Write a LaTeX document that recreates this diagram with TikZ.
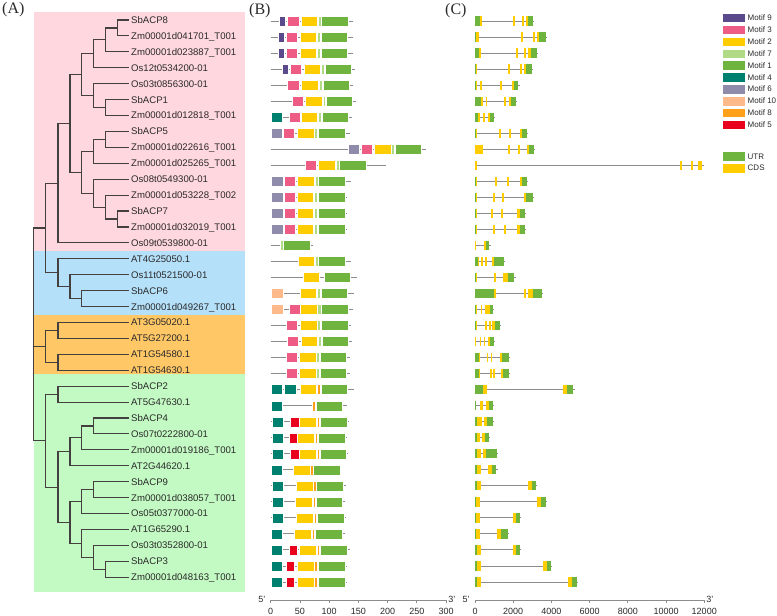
\documentclass[tikz,border=0pt]{standalone}
\usepackage{fontspec}
\setmainfont{Liberation Serif}
\setsansfont{Liberation Sans}
\usetikzlibrary{calc,positioning}

\definecolor{bgpink}{HTML}{FFD7DF}
\definecolor{bgblue}{HTML}{B5E0F9}
\definecolor{bgorange}{HTML}{FFC766}
\definecolor{bggreen}{HTML}{C3F9C3}
\definecolor{m9}{HTML}{5A4A8C}
\definecolor{m3}{HTML}{EE5C86}
\definecolor{m2}{HTML}{FFCC00}
\definecolor{m7}{HTML}{B0DA85}
\definecolor{m1}{HTML}{6EB43F}
\definecolor{m4}{HTML}{00806F}
\definecolor{m6}{HTML}{8F8BAA}
\definecolor{m10}{HTML}{FFBA8C}
\definecolor{m8}{HTML}{FFA01A}
\definecolor{m5}{HTML}{E8001D}
\definecolor{utr}{HTML}{6EB43F}
\definecolor{cds}{HTML}{FFCC00}
\definecolor{treegrey}{HTML}{444040}
\definecolor{linegrey}{HTML}{8C8C8C}
\definecolor{labgrey}{HTML}{2A2A2A}

% elbow joining two children at depth x
\newcommand{\clade}[4]{%
  \coordinate (mid) at ($(#3)!0.5!(#4)$);
  \coordinate (#1) at (#2,0 |- mid);
  \draw[branch] (#3) -| (#1) |- (#4);
}

\begin{document}
\begin{tikzpicture}
    [
    x=1pt, y=-1pt,
    branch/.style={line width=1.1pt, color=treegrey},
    leaf/.style={anchor=west, inner xsep=2.5pt, inner ysep=0pt,
      text height=6.9pt, text depth=0pt, text=labgrey,
      font=\sffamily\fontsize{9.6}{11}\selectfont},
    panel/.style={anchor=west, inner sep=0pt, text=labgrey,
      font=\fontsize{16}{18}\selectfont},
    backbone/.style={line width=1pt, color=linegrey},
    motif/.style={draw=white, line width=0.4pt},
    axisline/.style={line width=0.8pt, color=linegrey},
    ticklab/.style={inner sep=0pt, text=labgrey,
      font=\sffamily\fontsize{9}{10}\selectfont},
    legtext/.style={anchor=west, inner sep=0pt, text=labgrey,
      font=\sffamily\fontsize{8}{9}\selectfont}
    ]
    % motif rows: length / {motif/start/end}
    \def\motifrows{%
      141/{9/15/25, 3/29/48, 2/52/80, 7/81/86, 1/87/133},%
      140/{9/13/23, 3/27/46, 2/50/78, 7/79/84, 1/86/131},%
      140/{9/13/23, 3/27/46, 2/50/78, 7/79/84, 1/86/131},%
      144/{9/20/30, 3/34/53, 2/57/85, 7/86/91, 1/93/138},%
      140/{3/29/48, 2/53/82, 7/83/88, 1/89/135},%
      146/{3/37/55, 2/59/88, 7/89/94, 1/95/140},%
      139/{4/0/20, 3/31/50, 2/52/80, 7/82/87, 1/88/133},%
      135/{6/0/20, 3/22/41, 2/45/74, 7/75/80, 1/81/127},%
      266/{6/132/152, 3/155/173, 2/177/206, 7/207/212, 1/213/258},%
      197/{3/59/78, 2/82/111, 7/112/117, 1/118/163},%
      137/{6/1/21, 3/23/42, 2/46/75, 7/76/81, 1/82/128},%
      131/{6/1/21, 3/23/42, 2/45/73, 7/75/80, 1/81/127},%
      131/{6/1/21, 3/23/42, 2/45/73, 7/75/80, 1/81/127},%
      131/{6/1/21, 3/23/42, 2/45/73, 7/75/80, 1/81/127},%
      72/{7/16/21, 1/22/67},%
      137/{2/47/74, 7/76/81, 1/82/128},%
      148/{2/55/83, 1/91/136},%
      143/{10/0/21, 2/50/78, 7/79/84, 1/86/131},%
      141/{10/0/21, 3/31/50, 2/51/79, 7/80/86, 1/87/132},%
      137/{3/26/45, 2/51/79, 7/80/85, 1/87/132},%
      139/{3/28/47, 2/52/80, 7/82/87, 1/88/133},%
      136/{3/26/45, 2/49/77, 7/78/83, 1/84/130},%
      136/{3/26/45, 2/49/77, 7/78/83, 1/84/130},%
      142/{4/0/20, 4/23/43, 2/50/78, 8/79/84, 1/86/131},%
      131/{4/0/20, 8/71/76, 1/78/123},%
      134/{4/2/22, 5/34/49, 2/49/78, 8/79/83, 1/84/131},%
      131/{4/2/22, 5/32/46, 2/46/75, 8/76/80, 1/82/128},%
      133/{4/2/22, 5/34/48, 2/48/77, 8/79/83, 1/84/130},%
      121/{4/0/19, 2/38/67, 8/68/72, 1/73/119},%
      128/{4/2/22, 2/43/72, 8/73/77, 1/78/124},%
      127/{4/2/22, 2/42/71, 8/72/76, 1/78/123},%
      129/{4/2/22, 2/44/73, 8/74/78, 1/79/125},%
      127/{4/0/19, 2/41/70, 8/71/75, 1/76/122},%
      135/{4/0/20, 5/31/45, 2/49/78, 8/79/83, 1/84/131},%
      131/{4/0/20, 5/27/41, 2/45/74, 8/75/79, 1/81/127},%
      131/{4/0/20, 5/27/41, 2/45/74, 8/75/79, 1/81/127}%
    }
    % gene rows: length / {kind/start/end}
    \def\generows{%
      3050/{utr/0/260, cds/260/350, cds/1970/2070, cds/2440/2540, cds/2650/2790, utr/2790/3050},%
      3720/{utr/0/50, cds/50/200, cds/2390/2490, cds/3030/3140, cds/3240/3370, utr/3370/3720},%
      3230/{utr/0/230, cds/230/300, cds/2150/2250, cds/2580/2690, cds/2790/2910, utr/2910/3230},%
      2960/{utr/0/40, cds/40/120, cds/1730/1830, cds/2340/2440, cds/2550/2650, utr/2650/2960},%
      2270/{utr/0/40, cds/40/90, cds/260/370, cds/1330/1430, cds/1930/2060, utr/2060/2270},%
      2150/{utr/0/310, cds/310/400, cds/560/650, cds/1500/1600, cds/1760/1870, utr/1870/2150},%
      1000/{utr/0/170, cds/170/260, cds/420/520, cds/660/780, utr/780/1000},%
      2700/{utr/0/40, cds/40/100, cds/1240/1340, cds/1800/1900, cds/2340/2460, utr/2460/2700},%
      3090/{cds/0/440, cds/1740/1830, cds/2270/2370, cds/2720/2830, utr/2830/3090},%
      11950/{cds/0/90, cds/10730/10830, cds/11300/11400, cds/11690/11890},%
      2700/{utr/0/40, cds/40/90, cds/1030/1130, cds/1680/1780, cds/2340/2460, utr/2460/2700},%
      3020/{utr/0/40, cds/40/120, cds/940/1030, cds/1430/1520, cds/2580/2670, utr/2670/3020},%
      2610/{utr/0/40, cds/40/120, cds/860/940, cds/1340/1450, cds/2210/2350, utr/2350/2610},%
      2610/{utr/0/40, cds/40/120, cds/940/1030, cds/1530/1640, cds/2210/2340, utr/2340/2610},%
      780/{cds/0/70, cds/450/580, utr/580/750},%
      1530/{utr/0/140, cds/140/190, cds/330/400, cds/540/610, cds/870/990, utr/990/1530},%
      2060/{utr/0/40, cds/40/100, cds/990/1080, cds/1470/1710, utr/1710/2060},%
      3500/{utr/0/1010, cds/1010/1080, cds/2560/2650, cds/2790/3050, utr/3050/3500},%
      940/{utr/0/40, cds/40/90, cds/310/380, cds/540/790, utr/790/940},%
      1290/{utr/0/40, cds/40/90, cds/540/650, cds/730/820, cds/890/1060, utr/1060/1290},%
      1010/{cds/0/30, cds/240/330, cds/450/540, cds/680/770, utr/770/1010},%
      1780/{utr/0/230, cds/230/280, cds/610/700, cds/820/910, cds/1290/1410, utr/1410/1780},%
      1790/{utr/0/230, cds/230/280, cds/780/870, cds/960/1060, cds/1380/1480, utr/1480/1790},%
      5150/{utr/0/400, cds/400/610, cds/4620/4830, utr/4830/5110},%
      940/{utr/0/30, cds/260/440, cds/560/730, utr/730/940},%
      920/{utr/0/90, cds/90/350, cds/450/630, utr/630/920},%
      750/{utr/0/90, cds/90/260, cds/350/520, utr/520/750},%
      1150/{utr/0/90, cds/90/300, cds/420/590, utr/590/1150},%
      1120/{utr/0/90, cds/90/300, cds/680/870, utr/870/1120},%
      3210/{utr/0/90, cds/90/300, cds/2760/2960, utr/2960/3210},%
      3720/{utr/0/50, cds/50/260, cds/3260/3440, utr/3440/3720},%
      2350/{utr/0/50, cds/50/260, cds/2010/2150, utr/2150/2350},%
      1710/{utr/0/50, cds/50/260, cds/1170/1360, utr/1360/1710},%
      2350/{utr/0/90, cds/90/310, cds/1970/2150, utr/2150/2350},%
      3960/{utr/0/90, cds/90/310, cds/3580/3750, utr/3750/3960},%
      5340/{utr/0/90, cds/90/310, cds/4880/5060, utr/5060/5340}%
    }

    \fill[white] (0,0) rectangle (777,616);
    \useasboundingbox (0,0) rectangle (777,616);

    % subfamily shading
    \fill[bgpink]   (34,12)  rectangle (245.3,251);
    \fill[bgblue]   (34,251) rectangle (245.3,315);
    \fill[bgorange] (34,315) rectangle (245.3,374);
    \fill[bggreen]  (34,374) rectangle (245.3,592);

    % panel letters
    \node[panel] (pA) at (2,10) {(A)};
    \node[panel] (pB) at (249,11) {(B)};
    \node[panel] (pC) at (445,11) {(C)};

    % leaves of the tree
    \foreach \name [count=\i from 0] in {SbACP8, Zm00001d041701\_T001,
      Zm00001d023887\_T001, Os12t0534200-01, Os03t0856300-01, SbACP1,
      Zm00001d012818\_T001, SbACP5, Zm00001d022616\_T001, Zm00001d025265\_T001,
      Os08t0549300-01, Zm00001d053228\_T002, SbACP7, Zm00001d032019\_T001,
      Os09t0539800-01, AT4G25050.1, Os11t0521500-01, SbACP6,
      Zm00001d049267\_T001, AT3G05020.1, AT5G27200.1, AT1G54580.1,
      AT1G54630.1, SbACP2, AT5G47630.1, SbACP4, Os07t0222800-01,
      Zm00001d019186\_T001, AT2G44620.1, SbACP9, Zm00001d038057\_T001,
      Os05t0377000-01, AT1G65290.1, Os03t0352800-01, SbACP3,
      Zm00001d048163\_T001} {
      \node[leaf] (t\i) at (128.5,{20+15.92*\i}) {\name};
    }

    % pink subfamily
    \clade{pa}{117.3}{t0.west}{t1.west}
    \clade{pb}{105.5}{pa}{t2.west}
    \clade{pc}{93.6}{pb}{t3.west}
    \clade{pd}{105.5}{t5.west}{t6.west}
    \clade{pe}{93.6}{t4.west}{pd}
    \clade{pf}{81.8}{pc}{pe}
    \clade{pg}{105.5}{t7.west}{t8.west}
    \clade{ph}{93.6}{pg}{t9.west}
    \clade{pi}{117.3}{t12.west}{t13.west}
    \clade{pj}{105.5}{t11.west}{pi}
    \clade{pk}{93.6}{t10.west}{pj}
    \clade{pl}{81.8}{ph}{pk}
    \clade{pm}{70}{pf}{pl}
    \clade{pinkclade}{58}{pm}{t14.west}
    % blue subfamily
    \clade{ba}{81.8}{t17.west}{t18.west}
    \clade{bb}{70}{t16.west}{ba}
    \clade{blueclade}{58}{t15.west}{bb}
    \clade{pinkblue}{45.5}{pinkclade}{blueclade}
    % orange subfamily
    \clade{oa}{58}{t19.west}{t20.west}
    \clade{ob}{58}{t21.west}{t22.west}
    \clade{orangeclade}{45.5}{oa}{ob}
    % green subfamily
    \clade{ga}{58}{t23.west}{t24.west}
    \clade{gb}{93.6}{t25.west}{t26.west}
    \clade{gc}{81.8}{gb}{t27.west}
    \clade{gd}{70}{gc}{t28.west}
    \clade{ge}{93.6}{t29.west}{t30.west}
    \clade{gf}{81.8}{ge}{t31.west}
    \clade{gg}{105.5}{t34.west}{t35.west}
    \clade{gh}{93.6}{t33.west}{gg}
    \clade{gi}{81.8}{t32.west}{gh}
    \clade{gj}{70}{gf}{gi}
    \clade{gk}{58}{gd}{gj}
    \clade{greenclade}{45.5}{ga}{gk}
    % root
    \clade{root}{33.5}{pinkblue}{greenclade}
    \draw[branch] (orangeclade) -| (root);

    % conserved motifs
    \begin{scope}[shift={(270.7,0)}, x=0.5844pt]
      \foreach \len/\ms [count=\r from 0] in \motifrows {
        \pgfmathsetmacro\yy{21+16.03*\r}
        \draw[backbone] (0,\yy) -- (\len,\yy);
        \foreach \m/\st/\en in \ms
          \fill[motif, fill=m\m] (\st,\yy-5) rectangle (\en,\yy+5);
      }
      \draw[axisline] (0,600) -- (300,600);
      \foreach \t in {0,50,...,300} {
        \draw[axisline] (\t,600) -- (\t,603);
        \node[ticklab] (bt\t) at (\t,611) {\t};
      }
      \node[ticklab] (bfive) at (-15,599) {5'};
      \node[ticklab] (bthree) at (310,599) {3'};
    \end{scope}

    % gene structures
    \begin{scope}[shift={(475,0)}, x=0.01911pt]
      \foreach \len/\ex [count=\r from 0] in \generows {
        \pgfmathsetmacro\yy{21+16.03*\r}
        \draw[backbone] (0,\yy) -- (\len+60,\yy);
        \foreach \kind/\st/\en in \ex
          \fill[fill=\kind] (\st,\yy-4.6) rectangle (\en,\yy+4.6);
      }
      \draw[axisline] (0,600) -- (12000,600);
      \foreach \t in {0,2000,...,12000} {
        \draw[axisline] (\t,600) -- (\t,603);
        \node[ticklab] (ct\t) at (\t,611) {\t};
      }
      \node[ticklab] (cfive) at (-470,599) {5'};
      \node[ticklab] (cthree) at (12300,599) {3'};
    \end{scope}

    % legend
    \foreach \m [count=\i from 0] in {9,3,2,7,1,4,6,10,8,5} {
      \pgfmathsetmacro\yy{17.7+11.9*\i}
      \fill[motif, fill=m\m] (722.3,\yy-4.7) rectangle (744.7,\yy+4.7);
      \node[legtext] (lg\m) at (747.5,\yy) {Motif \m};
    }
    \fill[motif, fill=utr] (722.3,151.6) rectangle (744.7,161);
    \node[legtext] (lgutr) at (747.5,156.3) {UTR};
    \fill[motif, fill=cds] (722.3,163.3) rectangle (744.7,172.7);
    \node[legtext] (lgcds) at (747.5,168) {CDS};
\end{tikzpicture}
\end{document}
